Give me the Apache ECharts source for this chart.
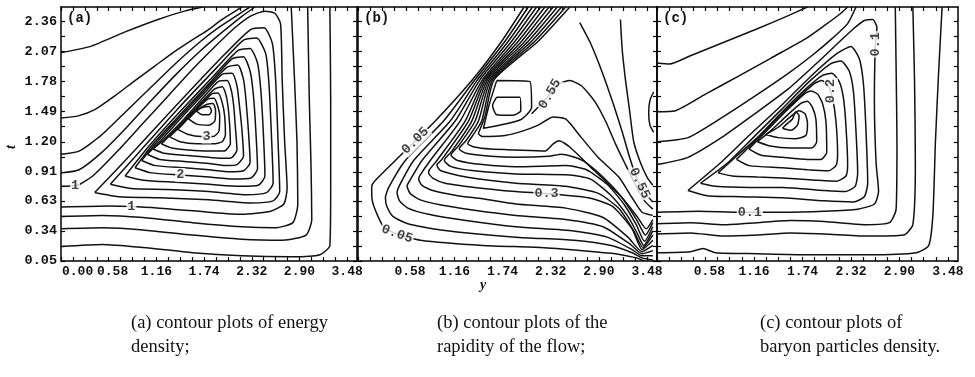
<!DOCTYPE html>
<html>
<head>
<meta charset="utf-8">
<script src="https://cdn.jsdelivr.net/npm/echarts@6/dist/echarts.min.js"></script>
<style>
html, body { margin: 0; padding: 0; background: #fff; }
#chart { width: 975px; height: 377px; }
</style>
</head>
<body>
<div id="chart"></div>
<script>
// axis ticks (y = rapidity, t = time)
const xMajor = [0, 0.58, 1.16, 1.74, 2.32, 2.90, 3.48];
const xMinor = [0.145, 0.29, 0.435, 0.725, 0.87, 1.015, 1.305, 1.45, 1.595, 1.885, 2.03, 2.175,
                2.465, 2.61, 2.755, 3.045, 3.19, 3.335];
const yMajor = [0.05, 0.34, 0.63, 0.91, 1.20, 1.49, 1.78, 2.07, 2.36];
const yMinor = [0.195, 0.485, 0.77, 1.055, 1.345, 1.635, 1.925, 2.215];

// (a) energy density: open contours
const energyOpen = [
  [[0,2.06],[0.36,2.12],[0.78,2.26],[1.18,2.38],[1.5,2.46],[1.72,2.5]],
  [[0,1.43],[0.21,1.45],[0.41,1.51],[0.65,1.64],[0.9,1.79],[1.14,1.93],[1.38,2.07],[1.63,2.2],[1.79,2.28],[1.96,2.38],[2.12,2.46],[2.2,2.5]],
  [[0,1.08],[0.22,1.11],[0.5,1.27],[0.8,1.5],[1.1,1.73],[1.4,1.96],[1.7,2.17],[1.95,2.32],[2.2,2.45],[2.3,2.5]],
  [[0,0.9],[0.22,0.93],[0.5,1.1],[0.8,1.34],[1.1,1.6],[1.4,1.85],[1.7,2.08],[1.95,2.25],[2.2,2.41],[2.36,2.5]],
  [[0,0.77],[0.2,0.78],[0.4,0.88],[0.7,1.12],[1.0,1.38],[1.3,1.64],[1.6,1.9],[1.85,2.1],[2.1,2.29],[2.3,2.41],[2.48,2.46],[2.6,2.44],[2.67,2.34],[2.69,1.8],[2.72,1.2],[2.75,0.75],[2.71,0.6],[2.55,0.53],[2.2,0.5],[1.8,0.52],[1.2,0.56],[0.6,0.58],[0,0.57]],
  [[0,0.48],[0.5,0.49],[1.0,0.47],[1.6,0.42],[2.2,0.38],[2.6,0.37],[2.82,0.42],[2.88,0.6],[2.87,1.2],[2.84,1.8],[2.8,2.5]],
  [[0,0.36],[0.5,0.37],[1.0,0.35],[1.6,0.3],[2.2,0.26],[2.7,0.25],[2.98,0.3],[3.05,0.45],[3.04,1.0],[3.02,1.6],[3.0,2.5]],
  [[0,0.19],[0.5,0.21],[1.0,0.18],[1.6,0.13],[2.2,0.1],[2.8,0.09],[3.15,0.11],[3.27,0.2],[3.28,0.8],[3.28,1.6],[3.27,2.5]]
];
// (a) energy density: closed contours around the peak
const energyClosed = [
  [[0.41,0.71],[0.7,0.67],[1.2,0.66],[1.8,0.64],[2.3,0.61],[2.58,0.63],[2.66,0.72],[2.64,1.2],[2.61,1.8],[2.57,2.15],[2.47,2.3],[2.3,2.28],[1.9,1.97],[1.4,1.55],[0.9,1.12],[0.41,0.71]],
  [[0.6,0.79],[0.85,0.75],[1.3,0.74],[1.8,0.72],[2.25,0.69],[2.5,0.71],[2.58,0.8],[2.56,1.25],[2.53,1.75],[2.49,2.05],[2.38,2.2],[2.22,2.18],[1.9,1.92],[1.4,1.5],[0.95,1.1],[0.6,0.79]],
  [[0.78,0.87],[1.0,0.83],[1.4,0.81],[1.8,0.79],[2.18,0.77],[2.4,0.78],[2.48,0.87],[2.46,1.3],[2.43,1.7],[2.39,1.96],[2.3,2.1],[2.15,2.08],[1.85,1.83],[1.4,1.45],[1.05,1.14],[0.78,0.87]],
  [[0.9,0.95],[1.1,0.9],[1.45,0.88],[1.8,0.86],[2.1,0.84],[2.31,0.85],[2.39,0.94],[2.37,1.3],[2.34,1.65],[2.3,1.88],[2.22,2.02],[2.08,2.0],[1.8,1.76],[1.4,1.42],[1.1,1.16],[0.9,0.95]],
  [[0.98,1.02],[1.15,0.97],[1.5,0.95],[1.8,0.93],[2.05,0.91],[2.22,0.92],[2.3,1.0],[2.28,1.3],[2.25,1.6],[2.22,1.8],[2.15,1.94],[2.02,1.92],[1.75,1.7],[1.4,1.4],[1.15,1.18],[0.98,1.02]],
  [[1.05,1.08],[1.2,1.03],[1.5,1.01],[1.8,0.99],[2.0,0.97],[2.14,0.98],[2.22,1.06],[2.2,1.32],[2.17,1.55],[2.14,1.74],[2.08,1.86],[1.96,1.85],[1.72,1.65],[1.45,1.42],[1.2,1.2],[1.05,1.08]],
  [[1.12,1.13],[1.25,1.09],[1.5,1.07],[1.8,1.05],[2.0,1.04],[2.08,1.05],[2.14,1.12],[2.12,1.35],[2.1,1.55],[2.07,1.7],[2.02,1.79],[1.91,1.78],[1.7,1.6],[1.45,1.38],[1.25,1.22],[1.12,1.13]],
  [[1.22,1.18],[1.35,1.14],[1.55,1.12],[1.8,1.11],[1.98,1.11],[2.06,1.18],[2.05,1.38],[2.03,1.55],[2.0,1.67],[1.96,1.73],[1.87,1.71],[1.68,1.56],[1.45,1.36],[1.22,1.18]],
  [[1.32,1.25],[1.45,1.2],[1.65,1.18],[1.85,1.18],[1.96,1.2],[2.0,1.27],[1.99,1.45],[1.96,1.58],[1.91,1.67],[1.83,1.66],[1.65,1.52],[1.48,1.37],[1.32,1.25]],
  [[1.42,1.32],[1.55,1.27],[1.7,1.25],[1.85,1.25],[1.92,1.3],[1.93,1.45],[1.9,1.56],[1.86,1.62],[1.78,1.61],[1.62,1.49],[1.42,1.32]],
  [[1.55,1.42],[1.65,1.37],[1.8,1.36],[1.87,1.4],[1.88,1.5],[1.85,1.57],[1.77,1.56],[1.65,1.5],[1.55,1.42]],
  [[1.64,1.5],[1.72,1.46],[1.8,1.46],[1.83,1.5],[1.8,1.54],[1.72,1.53],[1.64,1.5]]
];
const energyLabels = [['1',0.17,0.775,0],['1',0.855,0.57,0],['2',1.45,0.88,0],['3',1.77,1.25,0]];

// (b) rapidity of the flow: chevron contours along the front
const rapidityChevrons = [
  [[2.0,2.5],[1.73,2.17],[1.38,1.8],[0.93,1.4],[0.45,1.02],[0.2,0.82],[0.165,0.77],[0.17,0.64],[0.23,0.5],[0.31,0.38],[0.47,0.31],[0.75,0.25],[1.5,0.2],[2.2,0.18],[2.7,0.15],[3.1,0.12],[3.35,0.08],[3.45,0.05]],
  [[2.05,2.5],[1.77,2.17],[1.41,1.8],[1.03,1.4],[0.57,1.02],[0.37,0.76],[0.33,0.66],[0.35,0.57],[0.42,0.48],[0.6,0.41],[1.0,0.35],[1.9,0.28],[2.6,0.25],[3.05,0.2],[3.3,0.13],[3.42,0.08],[3.55,0.06]],
  [[2.1,2.5],[1.81,2.17],[1.44,1.8],[1.11,1.4],[0.67,1.02],[0.5,0.78],[0.47,0.71],[0.5,0.63],[0.6,0.56],[0.85,0.5],[1.3,0.44],[1.9,0.38],[2.6,0.34],[3.0,0.28],[3.3,0.16],[3.42,0.1],[3.55,0.1]],
  [[2.15,2.5],[1.85,2.17],[1.47,1.8],[1.17,1.4],[0.77,1.02],[0.62,0.82],[0.59,0.775],[0.63,0.7],[0.75,0.64],[1.0,0.59],[1.4,0.54],[1.9,0.49],[2.5,0.45],[2.95,0.38],[3.28,0.21],[3.42,0.12],[3.55,0.15]],
  [[2.2,2.5],[1.89,2.17],[1.5,1.8],[1.23,1.4],[0.87,1.02],[0.75,0.88],[0.73,0.84],[0.77,0.78],[0.9,0.73],[1.2,0.68],[1.5,0.65],[1.9,0.6],[2.5,0.56],[2.95,0.47],[3.25,0.28],[3.42,0.14],[3.55,0.2]],
  [[2.25,2.5],[1.93,2.17],[1.52,1.8],[1.29,1.4],[0.95,1.02],[0.86,0.93],[0.85,0.9],[0.9,0.85],[1.05,0.8],[1.4,0.76],[1.9,0.72],[2.27,0.7],[2.77,0.66],[3.06,0.58],[3.3,0.36],[3.42,0.16],[3.55,0.25]],
  [[2.3,2.5],[1.97,2.17],[1.54,1.8],[1.33,1.4],[1.01,1.03],[0.96,0.99],[0.95,0.97],[1.0,0.92],[1.3,0.86],[1.9,0.8],[2.5,0.77],[2.9,0.7],[3.15,0.55],[3.32,0.34],[3.43,0.18],[3.55,0.3]],
  [[2.35,2.5],[2.01,2.17],[1.56,1.8],[1.37,1.4],[1.13,1.11],[1.05,1.04],[1.04,1.02],[1.12,0.96],[1.4,0.92],[1.9,0.89],[2.55,0.88],[2.8,0.84],[3.05,0.68],[3.25,0.48],[3.36,0.32],[3.44,0.2],[3.55,0.34]],
  [[2.4,2.5],[2.05,2.17],[1.58,1.8],[1.41,1.4],[1.21,1.16],[1.13,1.09],[1.12,1.07],[1.2,1.02],[1.5,0.98],[1.9,0.96],[2.5,0.97],[2.75,0.93],[3.0,0.79],[3.2,0.6],[3.35,0.4],[3.45,0.24],[3.55,0.38]],
  [[2.45,2.5],[2.09,2.17],[1.6,1.8],[1.45,1.4],[1.3,1.21],[1.23,1.15],[1.22,1.13],[1.3,1.09],[1.6,1.06],[1.9,1.05],[2.3,1.06],[2.45,1.08],[2.7,1.02],[2.95,0.86],[3.18,0.66],[3.36,0.44],[3.46,0.3],[3.55,0.42]],
  [[2.5,2.5],[2.13,2.17],[1.62,1.8],[1.49,1.4],[1.38,1.26],[1.33,1.2],[1.32,1.18],[1.4,1.15],[1.6,1.13],[1.9,1.12],[2.25,1.11],[2.35,1.18],[2.42,1.21],[2.55,1.15],[2.77,0.98],[2.98,0.82],[3.18,0.66],[3.36,0.48],[3.47,0.36],[3.55,0.45]],
  [[2.55,2.5],[2.17,2.17],[1.64,1.8],[1.53,1.45],[1.47,1.32],[1.45,1.28],[1.5,1.25],[1.77,1.26],[1.97,1.3],[2.17,1.36],[2.35,1.44],[2.5,1.42],[2.69,1.24],[2.89,1.05],[3.14,0.86],[3.3,0.66],[3.42,0.52],[3.55,0.49]]
];
// (b) rapidity: contours of the upper right part
const rapidityUpper = [
  [[1.67,1.63],[1.95,1.63],[1.96,1.5],[1.86,1.455],[1.67,1.46],[1.62,1.55],[1.67,1.63]],
  [[1.67,1.79],[2.07,1.78],[2.09,1.53],[1.95,1.41],[1.51,1.33],[1.58,1.56],[1.67,1.79]],
  [[2.09,1.47],[2.2,1.56],[2.31,1.66],[2.42,1.76],[2.55,1.79],[2.69,1.74],[2.85,1.59],[2.98,1.4],[3.1,1.18],[3.22,0.98],[3.33,0.8],[3.45,0.63],[3.55,0.55]],
  [[2.67,2.35],[2.8,2.15],[2.95,1.85],[3.08,1.55],[3.18,1.3],[3.27,1.05],[3.36,0.84],[3.46,0.7],[3.55,0.62]],
  [[3.16,2.38],[3.18,2.1],[3.22,1.8],[3.27,1.5],[3.32,1.2],[3.4,1.0],[3.48,0.86],[3.55,0.78]],
  [[3.56,1.68],[3.515,1.6],[3.5,1.48],[3.515,1.36],[3.56,1.29]]
];
const rapidityLabels = [['0.05',0.69,1.21,45],['0.05',0.47,0.31,-20],['0.3',2.27,0.7,0],['0.55',2.31,1.66,60],['0.55',3.39,0.8,-65]];

// (c) baryon density: open contours
const baryonOpen = [
  [[0,1.96],[0.15,1.95],[0.4,2.03],[0.8,2.16],[1.2,2.29],[1.55,2.41],[1.8,2.5]],
  [[0,1.49],[0.22,1.5],[0.58,1.66],[0.97,1.83],[1.37,2.01],[1.77,2.19],[2.0,2.32],[2.2,2.44],[2.28,2.5]],
  [[0,1.2],[0.37,1.24],[0.77,1.43],[1.17,1.64],[1.57,1.86],[1.85,2.03],[2.1,2.2],[2.28,2.34],[2.38,2.5]],
  [[0,0.98],[0.37,1.05],[0.77,1.24],[1.17,1.47],[1.57,1.71],[1.9,1.95],[2.15,2.14],[2.35,2.29],[2.48,2.37],[2.58,2.38],[2.63,2.3],[2.61,2.1],[2.6,1.6],[2.62,1.0],[2.65,0.72],[2.6,0.6],[2.4,0.55],[2.0,0.53],[1.5,0.52],[1.0,0.52],[0.5,0.53],[0,0.52]],
  [[0,0.41],[0.4,0.42],[0.8,0.4],[1.2,0.42],[1.6,0.44],[2.0,0.43],[2.5,0.4],[2.78,0.42],[2.86,0.55],[2.87,1.2],[2.86,1.9],[2.85,2.5]],
  [[0,0.31],[0.4,0.32],[0.8,0.29],[1.2,0.3],[1.6,0.32],[2.0,0.31],[2.5,0.29],[2.95,0.3],[3.06,0.4],[3.09,1.0],[3.08,1.8],[3.06,2.5]],
  [[0,0.13],[0.4,0.14],[0.55,0.17],[0.7,0.13],[1.2,0.12],[1.8,0.11],[2.5,0.11],[3.1,0.13],[3.25,0.2],[3.3,0.5],[3.33,1.2],[3.37,1.9],[3.41,2.5]]
];
// (c) baryon density: closed contours
const baryonClosed = [
  [[0.37,0.73],[0.6,0.68],[1.0,0.67],[1.5,0.66],[2.0,0.63],[2.35,0.62],[2.48,0.67],[2.52,0.8],[2.5,1.3],[2.47,1.75],[2.42,2.0],[2.32,2.12],[2.15,2.05],[1.85,1.84],[1.5,1.56],[1.1,1.26],[0.75,0.99],[0.37,0.73]],
  [[0.52,0.8],[0.7,0.77],[1.1,0.76],[1.5,0.76],[2.0,0.73],[2.25,0.72],[2.37,0.77],[2.4,0.9],[2.38,1.3],[2.35,1.68],[2.3,1.88],[2.2,1.98],[2.07,1.95],[1.82,1.78],[1.5,1.52],[1.15,1.24],[0.85,1.0],[0.52,0.8]],
  [[0.73,0.9],[0.9,0.87],[1.2,0.86],[1.5,0.85],[1.9,0.83],[2.15,0.82],[2.26,0.87],[2.28,0.98],[2.26,1.35],[2.23,1.62],[2.18,1.78],[2.09,1.86],[1.98,1.84],[1.78,1.71],[1.5,1.49],[1.2,1.24],[0.95,1.06],[0.73,0.9]],
  [[0.95,1.03],[1.1,0.97],[1.5,0.95],[1.8,0.93],[2.05,0.92],[2.14,0.97],[2.16,1.08],[2.14,1.4],[2.1,1.62],[2.05,1.74],[1.97,1.79],[1.88,1.76],[1.7,1.63],[1.45,1.44],[1.2,1.23],[0.95,1.03]],
  [[1.1,1.13],[1.25,1.07],[1.5,1.05],[1.8,1.03],[1.96,1.03],[2.03,1.1],[2.02,1.4],[1.98,1.57],[1.92,1.66],[1.84,1.69],[1.76,1.66],[1.6,1.54],[1.4,1.38],[1.1,1.13]],
  [[1.2,1.2],[1.35,1.16],[1.6,1.14],[1.85,1.14],[1.91,1.2],[1.9,1.42],[1.86,1.53],[1.8,1.59],[1.72,1.57],[1.55,1.45],[1.38,1.32],[1.2,1.2]],
  [[1.3,1.27],[1.45,1.24],[1.65,1.23],[1.78,1.26],[1.8,1.38],[1.77,1.47],[1.7,1.5],[1.58,1.43],[1.45,1.34],[1.3,1.27]],
  [[1.5,1.33],[1.6,1.31],[1.68,1.36],[1.7,1.45],[1.66,1.49],[1.62,1.42],[1.55,1.37],[1.5,1.33]]
];
const baryonLabels = [['0.1',1.11,0.52,0],['0.1',2.61,2.14,90],['0.2',2.08,1.69,90]];

const captions = [
  ['(a) contour plots of energy', 'density;'],
  ['(b) contour plots of the', 'rapidity of the flow;'],
  ['(c) contour plots of', 'baryon particles density.']
];

const monoFont = 'Liberation Mono';
const grids = [
  { left: 61, top: 7, width: 296, height: 254 },
  { left: 358, top: 7, width: 299, height: 254 },
  { left: 657, top: 7, width: 301, height: 254 }
];
const panels = [
  { lines: energyOpen.concat(energyClosed), labels: energyLabels, tag: '(a)' },
  { lines: rapidityChevrons.concat(rapidityUpper), labels: rapidityLabels, tag: '(b)' },
  { lines: baryonOpen.concat(baryonClosed), labels: baryonLabels, tag: '(c)' }
];

const xTicks = xMajor.concat(xMinor);
const yTicks = yMajor.concat(yMinor);
const frameLine = { show: true, onZero: false, lineStyle: { color: '#000', width: 1.5 } };
const tickStyle = { show: true, inside: true, length: 4, lineStyle: { color: '#000', width: 1.2 } };
const labelFont = { fontFamily: monoFont, fontWeight: 'bold', fontSize: 13.5, color: '#111' };

const xAxis = [], yAxis = [], series = [];
panels.forEach((p, i) => {
  xAxis.push({
    type: 'value', gridIndex: i, min: 0, max: 3.6, position: 'bottom',
    axisLine: frameLine, splitLine: { show: false },
    axisTick: Object.assign({ customValues: xTicks }, tickStyle),
    axisLabel: Object.assign({
      show: true, customValues: xMajor.slice(1), margin: 4,
      // the printed 0.58 sits a little right of its tick
      formatter: v => (v === 0.58 ? ' 0.58' : v.toFixed(2))
    }, labelFont, { fontSize: 13 })
  });
  xAxis.push({
    type: 'value', gridIndex: i, min: 0, max: 3.6, position: 'top',
    axisLine: frameLine, splitLine: { show: false }, axisLabel: { show: false },
    axisTick: Object.assign({ customValues: xTicks }, tickStyle)
  });
  yAxis.push({
    type: 'value', gridIndex: i, min: 0.05, max: 2.5, position: 'left',
    axisLine: frameLine, splitLine: { show: false },
    axisTick: Object.assign({ customValues: yTicks }, tickStyle),
    axisLabel: Object.assign({
      show: i === 0, customValues: yMajor, margin: 4,
      formatter: v => v.toFixed(2)
    }, labelFont)
  });
  yAxis.push({
    type: 'value', gridIndex: i, min: 0.05, max: 2.5, position: 'right',
    axisLine: frameLine, splitLine: { show: false }, axisLabel: { show: false },
    axisTick: Object.assign({ customValues: yTicks }, tickStyle)
  });

  p.lines.forEach(line => {
    series.push({
      type: 'line', xAxisIndex: 2 * i, yAxisIndex: 2 * i, data: line,
      symbol: 'none', smooth: 0.2, silent: true, clip: true,
      lineStyle: { color: '#111', width: 1.5 }
    });
  });
  series.push({
    type: 'scatter', xAxisIndex: 2 * i, yAxisIndex: 2 * i, symbolSize: 0, silent: true, z: 5,
    data: p.labels.map(l => ({ name: l[0], value: [l[1], l[2]], label: { rotate: l[3] } })),
    label: Object.assign({
      show: true, position: 'inside', formatter: d => d.name,
      backgroundColor: '#fff', padding: [0, 1]
    }, labelFont)
  });
});

const graphic = [];
panels.forEach((p, i) => {
  graphic.push({
    type: 'text', left: grids[i].left + 6, top: 11,
    style: { text: p.tag, font: 'bold 14px "Liberation Mono"', fill: '#111' }
  });
  captions[i].forEach((c, k) => {
    graphic.push({
      type: 'text', left: [131, 437, 760][i], top: 314 + k * 24,
      style: { text: c, font: '18.5px "Liberation Serif"', fill: '#111' }
    });
  });
});
graphic.push({
  type: 'text', x: 4, y: 149, rotation: Math.PI / 2,
  style: { text: 't', font: 'italic bold 14px "Liberation Serif"', fill: '#111' }
});
graphic.push({
  type: 'text', left: 480, top: 278,
  style: { text: 'y', font: 'italic bold 14px "Liberation Serif"', fill: '#111' }
});

const chart = echarts.init(document.getElementById('chart'));
chart.setOption({
  animation: false,
  backgroundColor: '#fff',
  grid: grids,
  xAxis: xAxis,
  yAxis: yAxis,
  series: series,
  graphic: graphic
});

// first tick label of panel (a) is printed left-aligned at the origin
const origin = chart.convertToPixel({ xAxisIndex: 0, yAxisIndex: 0 }, [xMajor[0], yMajor[0]]);
graphic.push({
  type: 'text', x: origin[0] + 1, y: origin[1] + 4,
  style: {
    text: xMajor[0].toFixed(2), font: 'bold 13px "Liberation Mono"', fill: '#111',
    align: 'left', verticalAlign: 'top'
  }
});
chart.setOption({ graphic: graphic });
</script>
</body>
</html>
